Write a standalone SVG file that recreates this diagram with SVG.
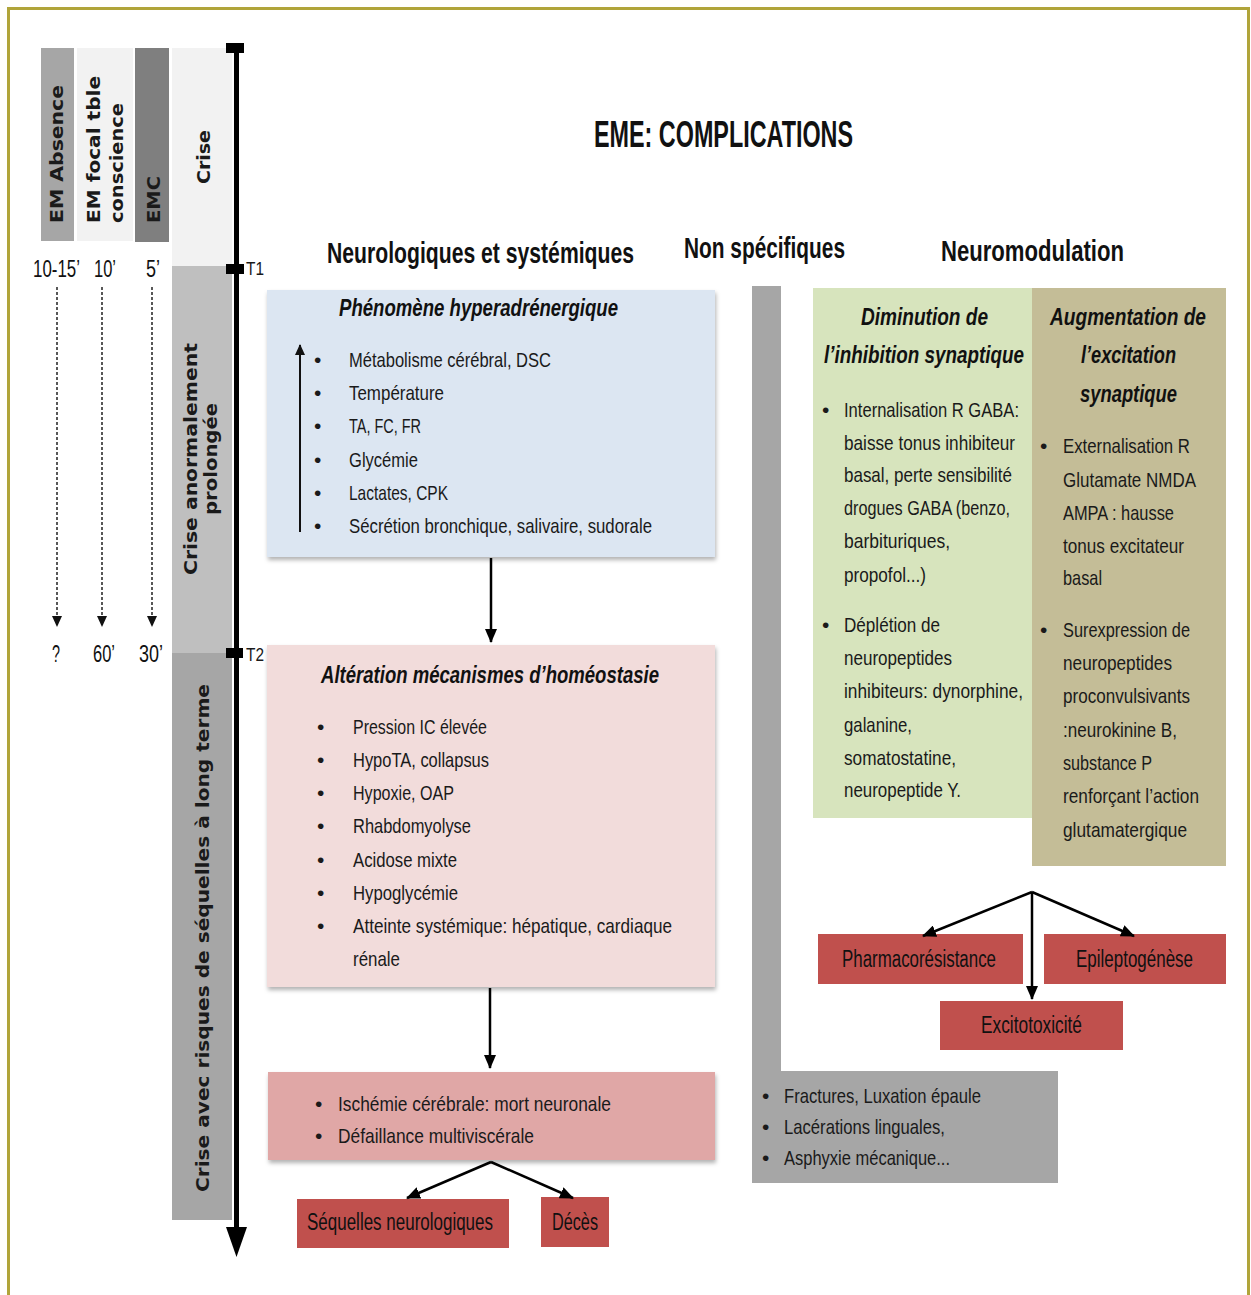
<svg xmlns="http://www.w3.org/2000/svg" width="1251" height="1295" viewBox="0 0 1251 1295">
<style>
.t{font-family:"Liberation Sans",Arial,sans-serif;font-size:21px;fill:#1a1a1a}
.b{font-family:"Liberation Sans",Arial,sans-serif;font-size:18px;fill:#1a1a1a}
.ti{font-family:"Liberation Sans",Arial,sans-serif;font-size:24px;font-style:italic;font-weight:bold;fill:#111}
.h{font-family:"Liberation Sans",Arial,sans-serif;font-size:29px;font-weight:bold;fill:#111}
.ttl{font-family:"Liberation Sans",Arial,sans-serif;font-size:36px;font-weight:bold;fill:#111}
.lb{font-family:"Liberation Sans",Arial,sans-serif;font-size:23px;fill:#111}
.v{font-family:"DejaVu Sans",Verdana,sans-serif;font-size:18px;font-weight:bold;fill:#1a1a1a}
.tm{font-family:"Liberation Sans",Arial,sans-serif;font-size:24px;fill:#111}
.con{fill:none;stroke:#000;stroke-width:2.5}
.dash{fill:none;stroke:#222;stroke-width:1.5;stroke-dasharray:3 2}
</style>
<defs>
<marker id="ah" markerUnits="userSpaceOnUse" markerWidth="14" markerHeight="12" refX="13" refY="6" orient="auto">
<path d="M0,0 L14,6 L0,12 z" fill="#000"/>
</marker>
<marker id="ahs" markerUnits="userSpaceOnUse" markerWidth="11" markerHeight="10" refX="10" refY="5" orient="auto">
<path d="M0,0 L11,5 L0,10 z" fill="#111"/>
</marker>
<filter id="sh" x="-5%" y="-5%" width="110%" height="115%">
<feDropShadow dx="1" dy="3" stdDeviation="2" flood-color="#000" flood-opacity="0.3"/>
</filter>
</defs>
<rect id="frame" x="8.5" y="8.5" width="1240" height="1300" fill="#fff" stroke="#b0a43a" stroke-width="3"/>

<g id="timeline-columns">
<rect x="41" y="48" width="33" height="193" fill="#a6a6a6"/>
<rect x="77" y="48" width="56" height="193" fill="#f2f2f2"/>
<rect x="135" y="48" width="34" height="194" fill="#7f7f7f"/>
<rect x="172" y="48" width="60" height="218" fill="#f2f2f2"/>
<rect x="172" y="266" width="60" height="387" fill="#bfbfbf"/>
<rect x="172" y="653" width="60" height="567" fill="#a6a6a6"/>
<text class="v" transform="translate(63,223) rotate(-90)" textLength="138" lengthAdjust="spacingAndGlyphs">EM Absence</text>
<text class="v" transform="translate(100,223) rotate(-90)" textLength="147" lengthAdjust="spacingAndGlyphs">EM focal tble</text>
<text class="v" transform="translate(123,223) rotate(-90)" textLength="120" lengthAdjust="spacingAndGlyphs">conscience</text>
<text class="v" transform="translate(160,223) rotate(-90)" textLength="47" lengthAdjust="spacingAndGlyphs">EMC</text>
<text class="v" transform="translate(210,184) rotate(-90)" textLength="54" lengthAdjust="spacingAndGlyphs">Crise</text>
<text class="v" transform="translate(197,575) rotate(-90)" textLength="232" lengthAdjust="spacingAndGlyphs">Crise anormalement</text>
<text class="v" transform="translate(217,515) rotate(-90)" textLength="112" lengthAdjust="spacingAndGlyphs">prolongée</text>
<text class="v" transform="translate(209,1192) rotate(-90)" textLength="508" lengthAdjust="spacingAndGlyphs">Crise avec risques de séquelles  à long terme</text>
</g>

<g id="timeline-axis">
<line x1="236.5" y1="48" x2="236.5" y2="1232" stroke="#000" stroke-width="5"/>
<polygon points="226,1227 247,1227 236.5,1257" fill="#000"/>
<rect x="226" y="43" width="18" height="10" fill="#000"/>
<rect x="226" y="264" width="18" height="10" fill="#000"/>
<rect x="226" y="648" width="17" height="10" fill="#000"/>
<text class="b" x="246" y="275" textLength="18" lengthAdjust="spacingAndGlyphs">T1</text>
<text class="b" x="246" y="661" textLength="18" lengthAdjust="spacingAndGlyphs">T2</text>
</g>

<g id="times">
<text class="tm" x="33" y="277" textLength="47" lengthAdjust="spacingAndGlyphs">10-15’</text>
<text class="tm" x="94" y="277" textLength="22" lengthAdjust="spacingAndGlyphs">10’</text>
<text class="tm" x="146" y="277" textLength="14" lengthAdjust="spacingAndGlyphs">5’</text>
<text class="tm" x="52" y="662" textLength="8" lengthAdjust="spacingAndGlyphs">?</text>
<text class="tm" x="93" y="662" textLength="22" lengthAdjust="spacingAndGlyphs">60’</text>
<text class="tm" x="139" y="662" textLength="24" lengthAdjust="spacingAndGlyphs">30’</text>
</g>

<g id="titles">
<text class="ttl" x="594" y="147" textLength="259" lengthAdjust="spacingAndGlyphs">EME: COMPLICATIONS</text>
<text class="h" x="327" y="263" textLength="307" lengthAdjust="spacingAndGlyphs">Neurologiques et systémiques</text>
<text class="h" x="684" y="258" textLength="161" lengthAdjust="spacingAndGlyphs">Non spécifiques</text>
<text class="h" x="941" y="261" textLength="183" lengthAdjust="spacingAndGlyphs">Neuromodulation</text>
</g>

<g id="hyperadrenergique">
<rect x="267" y="290" width="448" height="267" fill="#dce6f2" filter="url(#sh)"/>
<text class="ti" x="339" y="316" textLength="279" lengthAdjust="spacingAndGlyphs">Phénomène  hyperadrénergique</text>
<line x1="300" y1="532" x2="300" y2="345" stroke="#111" stroke-width="2" marker-end="url(#ahs)"/>
<g class="t">
<text x="314" y="367">•</text><text x="349" y="367" textLength="202" lengthAdjust="spacingAndGlyphs">Métabolisme cérébral, DSC</text>
<text x="314" y="400">•</text><text x="349" y="400" textLength="95" lengthAdjust="spacingAndGlyphs">Température</text>
<text x="314" y="433">•</text><text x="349" y="433" textLength="72" lengthAdjust="spacingAndGlyphs">TA, FC, FR</text>
<text x="314" y="467">•</text><text x="349" y="467" textLength="69" lengthAdjust="spacingAndGlyphs">Glycémie</text>
<text x="314" y="500">•</text><text x="349" y="500" textLength="99" lengthAdjust="spacingAndGlyphs">Lactates, CPK</text>
<text x="314" y="533">•</text><text x="349" y="533" textLength="303" lengthAdjust="spacingAndGlyphs">Sécrétion bronchique, salivaire, sudorale</text>
</g>
</g>

<g id="homeostasie">
<rect x="267" y="645" width="448" height="342" fill="#f2dcdb" filter="url(#sh)"/>
<text class="ti" x="321" y="683" textLength="338" lengthAdjust="spacingAndGlyphs">Altération mécanismes d’homéostasie</text>
<g class="t">
<text x="317" y="734">•</text><text x="353" y="734" textLength="134" lengthAdjust="spacingAndGlyphs">Pression IC élevée</text>
<text x="317" y="767">•</text><text x="353" y="767" textLength="136" lengthAdjust="spacingAndGlyphs">HypoTA, collapsus</text>
<text x="317" y="800">•</text><text x="353" y="800" textLength="101" lengthAdjust="spacingAndGlyphs">Hypoxie, OAP</text>
<text x="317" y="833">•</text><text x="353" y="833" textLength="118" lengthAdjust="spacingAndGlyphs">Rhabdomyolyse</text>
<text x="317" y="867">•</text><text x="353" y="867" textLength="104" lengthAdjust="spacingAndGlyphs">Acidose mixte</text>
<text x="317" y="900">•</text><text x="353" y="900" textLength="105" lengthAdjust="spacingAndGlyphs">Hypoglycémie</text>
<text x="317" y="933">•</text><text x="353" y="933" textLength="319" lengthAdjust="spacingAndGlyphs">Atteinte systémique: hépatique, cardiaque</text>
<text x="353" y="966" textLength="47" lengthAdjust="spacingAndGlyphs">rénale</text>
</g>
</g>

<g id="ischemie">
<rect x="268" y="1072" width="447" height="88" fill="#e0a7a6" filter="url(#sh)"/>
<g class="t">
<text x="315" y="1111">•</text><text x="338" y="1111" textLength="273" lengthAdjust="spacingAndGlyphs">Ischémie cérébrale: mort neuronale</text>
<text x="315" y="1143">•</text><text x="338" y="1143" textLength="196" lengthAdjust="spacingAndGlyphs">Défaillance multiviscérale</text>
</g>
</g>

<g id="sequelles">
<rect x="297" y="1199" width="212" height="49" fill="#c0504d"/>
<text class="lb" x="307" y="1230" textLength="186" lengthAdjust="spacingAndGlyphs">Séquelles neurologiques</text>
</g>
<g id="deces">
<rect x="541" y="1197" width="68" height="50" fill="#c0504d"/>
<text class="lb" x="552" y="1230" textLength="46" lengthAdjust="spacingAndGlyphs">Décès</text>
</g>

<g id="non-specifiques">
<path d="M752,286 H781 V1071 H1058 V1183 H752 Z" fill="#a6a6a6"/>
<g class="t">
<text x="762" y="1103">•</text><text x="784" y="1103" textLength="197" lengthAdjust="spacingAndGlyphs">Fractures, Luxation épaule</text>
<text x="762" y="1134">•</text><text x="784" y="1134" textLength="161" lengthAdjust="spacingAndGlyphs">Lacérations linguales,</text>
<text x="762" y="1165">•</text><text x="784" y="1165" textLength="166" lengthAdjust="spacingAndGlyphs">Asphyxie mécanique...</text>
</g>
</g>

<g id="inhibition">
<rect x="813" y="288" width="219" height="530" fill="#d7e4bd"/>
<text class="ti" x="861" y="325" textLength="127" lengthAdjust="spacingAndGlyphs">Diminution de</text>
<text class="ti" x="824" y="363" textLength="200" lengthAdjust="spacingAndGlyphs">l’inhibition  synaptique</text>
<g class="t">
<text x="822" y="417">•</text><text x="844" y="417" textLength="175" lengthAdjust="spacingAndGlyphs">Internalisation R GABA:</text>
<text x="844" y="450" textLength="171" lengthAdjust="spacingAndGlyphs">baisse tonus inhibiteur</text>
<text x="844" y="482" textLength="168" lengthAdjust="spacingAndGlyphs">basal, perte sensibilité</text>
<text x="844" y="515" textLength="166" lengthAdjust="spacingAndGlyphs">drogues GABA (benzo,</text>
<text x="844" y="548" textLength="106" lengthAdjust="spacingAndGlyphs">barbituriques,</text>
<text x="844" y="582" textLength="82" lengthAdjust="spacingAndGlyphs">propofol...)</text>
<text x="822" y="632">•</text><text x="844" y="632" textLength="96" lengthAdjust="spacingAndGlyphs">Déplétion de</text>
<text x="844" y="665" textLength="108" lengthAdjust="spacingAndGlyphs">neuropeptides</text>
<text x="844" y="698" textLength="179" lengthAdjust="spacingAndGlyphs">inhibiteurs: dynorphine,</text>
<text x="844" y="732" textLength="68" lengthAdjust="spacingAndGlyphs">galanine,</text>
<text x="844" y="765" textLength="112" lengthAdjust="spacingAndGlyphs">somatostatine,</text>
<text x="844" y="797" textLength="117" lengthAdjust="spacingAndGlyphs">neuropeptide Y.</text>
</g>
</g>

<g id="excitation">
<rect x="1032" y="288" width="194" height="578" fill="#c4bd97"/>
<text class="ti" x="1050" y="325" textLength="156" lengthAdjust="spacingAndGlyphs">Augmentation de</text>
<text class="ti" x="1081" y="363" textLength="95" lengthAdjust="spacingAndGlyphs">l’excitation</text>
<text class="ti" x="1080" y="402" textLength="97" lengthAdjust="spacingAndGlyphs">synaptique</text>
<g class="t">
<text x="1040" y="453">•</text><text x="1063" y="453" textLength="127" lengthAdjust="spacingAndGlyphs">Externalisation R</text>
<text x="1063" y="487" textLength="133" lengthAdjust="spacingAndGlyphs">Glutamate NMDA</text>
<text x="1063" y="520" textLength="111" lengthAdjust="spacingAndGlyphs">AMPA : hausse</text>
<text x="1063" y="553" textLength="121" lengthAdjust="spacingAndGlyphs">tonus excitateur</text>
<text x="1063" y="585" textLength="39" lengthAdjust="spacingAndGlyphs">basal</text>
<text x="1040" y="637">•</text><text x="1063" y="637" textLength="127" lengthAdjust="spacingAndGlyphs">Surexpression de</text>
<text x="1063" y="670" textLength="109" lengthAdjust="spacingAndGlyphs">neuropeptides</text>
<text x="1063" y="703" textLength="127" lengthAdjust="spacingAndGlyphs">proconvulsivants</text>
<text x="1063" y="737" textLength="114" lengthAdjust="spacingAndGlyphs">:neurokinine B,</text>
<text x="1063" y="770" textLength="89" lengthAdjust="spacingAndGlyphs">substance P</text>
<text x="1063" y="803" textLength="136" lengthAdjust="spacingAndGlyphs">renforçant l’action</text>
<text x="1063" y="837" textLength="124" lengthAdjust="spacingAndGlyphs">glutamatergique</text>
</g>
</g>

<g id="pharmacoresistance">
<rect x="818" y="934" width="205" height="50" fill="#c0504d"/>
<text class="lb" x="842" y="967" textLength="154" lengthAdjust="spacingAndGlyphs">Pharmacorésistance</text>
</g>
<g id="epileptogenese">
<rect x="1044" y="934" width="182" height="50" fill="#c0504d"/>
<text class="lb" x="1076" y="967" textLength="117" lengthAdjust="spacingAndGlyphs">Epileptogénèse</text>
</g>
<g id="excitotoxicite">
<rect x="940" y="1001" width="183" height="49" fill="#c0504d"/>
<text class="lb" x="981" y="1033" textLength="101" lengthAdjust="spacingAndGlyphs">Excitotoxicité</text>
</g>

<g id="connectors">
<path class="con" d="M491,558 L491,642" marker-end="url(#ah)"/>
<path class="con" d="M490,988 L490,1068" marker-end="url(#ah)"/>
<path class="con" d="M491,1162 L407,1198" marker-end="url(#ah)"/>
<path class="con" d="M491,1162 L573,1198" marker-end="url(#ah)"/>
<path class="con" d="M1032,892 L923,936" marker-end="url(#ah)"/>
<path class="con" d="M1032,892 L1032,999" marker-end="url(#ah)"/>
<path class="con" d="M1032,892 L1134,936" marker-end="url(#ah)"/>
<path class="dash" d="M57,287 L57,626" marker-end="url(#ahs)"/>
<path class="dash" d="M102,287 L102,626" marker-end="url(#ahs)"/>
<path class="dash" d="M152,287 L152,626" marker-end="url(#ahs)"/>
</g>
</svg>
